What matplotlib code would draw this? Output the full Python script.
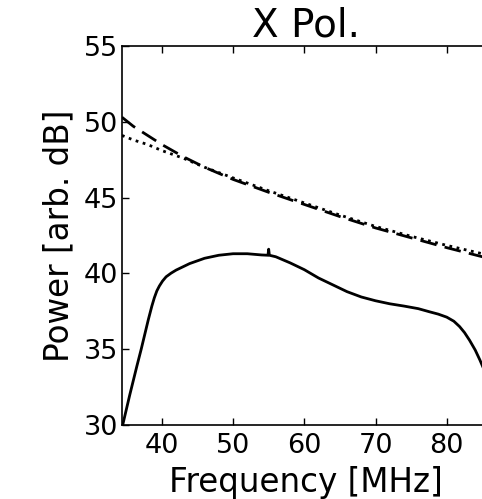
import matplotlib
matplotlib.use("Agg")
import matplotlib.pyplot as plt

# Data
freq_solid = [34.5, 35.5, 36.5, 37.1, 38.1, 38.6, 38.95, 39.3, 39.65, 40.1, 40.6, 41.3, 42.0,
              43.9, 46, 48, 50, 52, 54, 54.9, 55.0, 55.1, 56, 58, 60, 62, 64, 66, 68, 70,
              72, 74, 76, 77.6, 78.8, 80, 81, 81.8, 82.5, 83.2, 84.0, 84.65, 85.2]
power_solid = [30.0, 32.0, 33.9, 35.0, 36.95, 37.85, 38.4, 38.85, 39.17, 39.5, 39.78, 40.02,
               40.22, 40.65, 41.0, 41.2, 41.3, 41.3, 41.22, 41.2, 41.6, 41.2, 41.1, 40.7,
               40.25, 39.7, 39.25, 38.8, 38.45, 38.2, 38.0, 37.85, 37.68, 37.47, 37.32,
               37.12, 36.85, 36.5, 36.1, 35.6, 34.95, 34.3, 33.7]

freq_model = [34.4, 36, 38, 40, 43, 46, 50, 55, 60, 65, 70, 75, 80, 85]
power_dashed = [50.3, 49.7, 49.1, 48.5, 47.7, 47.0, 46.2, 45.35, 44.55, 43.75, 43.0, 42.35, 41.7, 41.1]
power_dotted = [49.1, 48.8, 48.5, 48.1, 47.6, 47.0, 46.3, 45.45, 44.65, 43.85, 43.1, 42.45, 41.85, 41.3]

xticks = [40, 50, 60, 70, 80]
yticks = [30, 35, 40, 45, 50, 55]

fig = plt.figure(figsize=(4.82, 4.99), dpi=100)
ax = fig.add_axes([0.253, 0.148, 0.7625, 0.76])

ax.plot(freq_solid, power_solid, color="black", lw=2, ls="-")
ax.plot(freq_model, power_dashed, color="black", lw=2, ls="--", dashes=(6, 3))
ax.plot(freq_model, power_dotted, color="black", lw=2, ls=":")

ax.set_xlim(34.4, 86)
ax.set_ylim(30, 55)
ax.set_xticks(xticks)
ax.set_yticks(yticks)
ax.tick_params(direction="in", top=True, right=True, length=5, width=1, labelsize=19.5)
ax.tick_params(axis="x", pad=6)
ax.tick_params(axis="y", pad=3)
for s in ax.spines.values():
    s.set_linewidth(1.2)

ax.set_xlabel("Frequency [MHz]", fontsize=23.5, labelpad=5)
ax.set_ylabel("Power [arb. dB]", fontsize=23.5, labelpad=6)
ax.set_title("X Pol.", fontsize=28, pad=6.5)

fig.savefig("out.png", dpi=100)
